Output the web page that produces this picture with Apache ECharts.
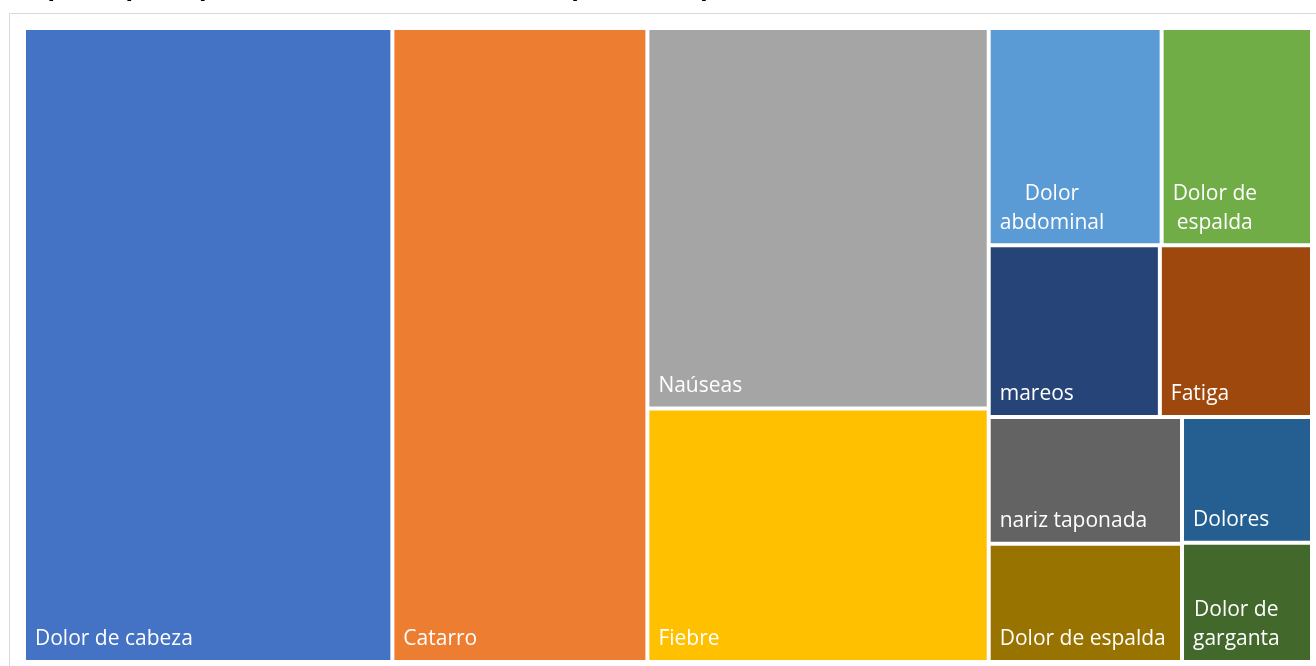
<!DOCTYPE html>
<html><head><meta charset="utf-8">
<script src="https://cdn.jsdelivr.net/npm/echarts@6/dist/echarts.min.js"></script>
<style>html,body{margin:0;padding:0;background:#fff;overflow:hidden}#c{width:1316px;height:666px}</style>
</head><body><div id="c"></div>
<script>
const titleText = 'Mapa de principales síntomas consultados (total 2021)';
const symptoms = ['Dolor de cabeza', 'Catarro', 'Naúseas', 'Fiebre', 'Dolor abdominal', 'Dolor de espalda',
  'mareos', 'Fatiga', 'nariz taponada', 'Dolor de espalda', 'Dolores', 'Dolor de garganta'];
const values = [286, 198, 159, 106, 46, 40, 36, 32, 30, 28, 20, 19];
const colors = ['#4472C4', '#ED7D31', '#A5A5A5', '#FFC000', '#5B9BD5', '#70AD47',
  '#264478', '#9E480E', '#636363', '#997300', '#255E91', '#43682B'];
const labelLines = [['Dolor de cabeza'], ['Catarro'], ['Naúseas'], ['Fiebre'], ['Dolor', 'abdominal'], ['Dolor de', 'espalda'],
  ['mareos'], ['Fatiga'], ['nariz taponada'], ['Dolor de espalda'], ['Dolores'], ['Dolor de', 'garganta']];
// grouping of the tiles (indices into the arrays above)
const tileGroups = [0, 1, [2, 3], [[4, 5], [6, 7], [[8, 9], [10, 11]]]];

const FS = 21, LH = 29, FONT = 'Open Sans', PAD_B = 4;
const cv = document.createElement('canvas').getContext('2d');
cv.font = FS + 'px "' + FONT + '"';

function build(n) {
  if (typeof n === 'number') {
    const lines = labelLines[n];
    const ws = lines.map(l => cv.measureText(l).width);
    const maxW = Math.max.apply(null, ws);
    const rich = {};
    lines.forEach((l, k) => {
      rich['l' + k] = { color: '#fff', fontSize: FS, fontFamily: FONT, lineHeight: LH, align: 'left',
        padding: [0, 0, 0, Math.round((maxW - ws[k]) / 2)] };
    });
    return {
      name: symptoms[n], value: values[n], lines: lines,
      itemStyle: { color: colors[n], borderWidth: 2, borderColor: '#fff' },
      label: { rich: rich }
    };
  }
  return { name: '', children: n.map(build), itemStyle: { borderWidth: 0, gapWidth: 0, borderColor: '#fff' }, label: { show: false } };
}
const tree = tileGroups.map(build);

const chart = echarts.init(document.getElementById('c'));
chart.setOption({
  animation: false,
  title: {
    text: titleText, left: 10, top: -26, padding: 0,
    textStyle: { fontSize: 27, fontWeight: 'bold', color: '#000', fontFamily: 'Liberation Sans' }
  },
  graphic: [{
    type: 'rect', z: -10, silent: true,
    shape: { x: 9.5, y: 13.5, width: 1320, height: 700 },
    style: { fill: '#fff', stroke: '#d9d9d9', lineWidth: 1 }
  }],
  series: [{
    type: 'treemap',
    left: 24, top: 28, width: 1288, height: 634,
    roam: false, nodeClick: false, sort: false, squareRatio: 0.6,
    breadcrumb: { show: false },
    itemStyle: { borderWidth: 0, gapWidth: 0, borderColor: '#fff' },
    upperLabel: { show: false },
    label: {
      show: true, position: 'insideTopLeft', distance: 0,
      color: '#fff', fontSize: FS, fontFamily: FONT, lineHeight: LH,
      padding: [0, 0, 0, 9],
      formatter: p => {
        const lines = p.data.lines;
        if (!lines || lines.length < 2) return p.name;
        return lines.map((l, k) => '{l' + k + '|' + l + '}').join('\n');
      }
    },
    labelLayout: p => {
      const n = (p.text || '').split('\n').length;
      return { dy: p.rect.height - 2 - n * LH - PAD_B };
    },
    data: tree
  }]
});
</script></body></html>
